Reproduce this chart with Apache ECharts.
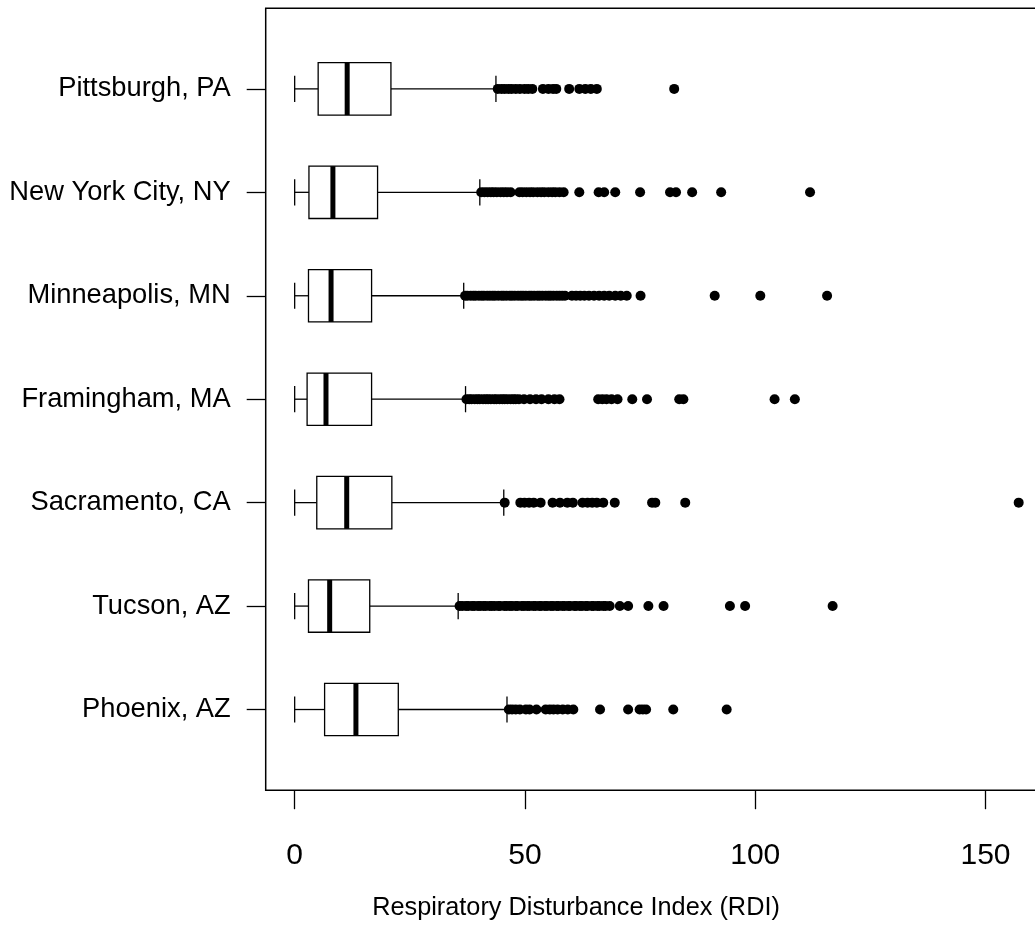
<!DOCTYPE html>
<html>
<head>
<meta charset="utf-8">
<script src="https://cdn.jsdelivr.net/npm/echarts@6/dist/echarts.min.js"></script>
<style>
html,body{margin:0;padding:0;background:#fff;}
#RdiBox{width:1035px;height:951px;}
</style>
</head>
<body>
<div id="RdiBox"></div>
<script>
// cities from bottom (1) to top (7)
var cities = ['Phoenix, AZ', 'Tucson, AZ', 'Sacramento, CA', 'Framingham, MA', 'Minneapolis, MN', 'New York City, NY', 'Pittsburgh, PA'];
// box stats, same order as cities
var whiskerLo = [0, 0, 0, 0, 0, 0, 0];
var q1s = [6.5, 3.0, 4.8, 2.7, 3.0, 3.1, 5.1];
var medians = [13.3, 7.6, 11.3, 6.8, 7.9, 8.3, 11.4];
var q3s = [22.5, 16.3, 21.1, 16.7, 16.7, 18.0, 20.9];
var whiskerHi = [46.1, 35.5, 45.4, 37.1, 36.7, 40.2, 43.7];
var xTicks = [0, 50, 100, 150];

// outliers
var outPhoenix = [46.5, 47.2, 48, 48.9, 50.2, 51, 52.5, 54.5, 55.4, 56.2, 57.1, 58.2, 59.3, 60.5, 66.3, 72.4, 74.9, 75.6, 76.3, 82.2, 93.8];
var outTucson = [35.8, 36.4, 37.2, 37.7, 38.5, 39, 39.8, 40.3, 41, 41.5, 42.3, 42.8, 43.4, 44.2, 44.6, 45.5, 46, 46.7, 47.2, 48, 48.4, 49.3, 49.8, 50.5, 51, 51.8, 52.3, 53.1, 53.5, 54.3, 54.8, 55.6, 56.1, 56.9, 57.3, 58.1, 58.6, 59.4, 59.8, 60.7, 61.1, 61.9, 62.4, 63.2, 63.6, 64.5, 64.9, 65.7, 66.2, 67, 67.5, 68.4, 70.6, 72.4, 76.8, 80.1, 94.5, 97.8, 116.8];
var outSacramento = [45.6, 49, 49.9, 50.9, 51.9, 53.4, 56, 57.6, 59.2, 60.4, 62.5, 63.6, 64.6, 65.6, 67, 69.5, 77.6, 78.3, 84.8, 157.2];
var outFramingham = [37.3, 37.9, 38.4, 39.1, 39.7, 40.2, 40.9, 41.5, 42, 42.6, 43.3, 43.8, 44.5, 45.1, 45.6, 46.2, 46.9, 47.5, 48, 48.7, 49.8, 51.1, 52.4, 53.6, 55.1, 56.4, 57.5, 65.9, 66.8, 67.7, 68.8, 70.1, 73.3, 76.5, 83.5, 84.4, 104.2, 108.6];
var outMinneapolis = [37, 37.5, 38.2, 38.8, 39.3, 40, 40.6, 41.1, 41.8, 42.4, 43, 43.5, 44.2, 44.9, 45.4, 46, 46.7, 47.2, 47.8, 48.5, 49.1, 49.6, 50.2, 50.9, 51.4, 52, 52.7, 53.2, 53.8, 54.5, 55.1, 55.6, 56.2, 56.9, 57.5, 58.1, 58.7, 60.2, 61.1, 62, 62.9, 63.9, 65, 66.1, 67.2, 68.3, 69.6, 70.8, 72.1, 75.1, 91.2, 101.1, 115.6];
var outNewYork = [40.5, 41.2, 41.9, 42.6, 43.2, 43.9, 44.7, 45.4, 46.1, 46.9, 48.8, 49.5, 50.3, 51.1, 51.8, 52.7, 53.5, 54.2, 55.1, 55.9, 56.6, 57.5, 58.4, 61.8, 66, 67.2, 69.6, 75, 81.5, 82.8, 86.3, 92.6, 111.9];
var outPittsburgh = [44.1, 44.9, 45.6, 46.4, 47.1, 48, 48.9, 49.9, 50.7, 51.6, 53.9, 55.1, 56.1, 56.8, 59.6, 61.8, 63.1, 64.3, 65.6, 82.4];

var outliers = [outPhoenix, outTucson, outSacramento, outFramingham, outMinneapolis, outNewYork, outPittsburgh];

var font = 'Liberation Sans, Arial, sans-serif';

var boxData = [];
var outData = [];
for (var i = 0; i < cities.length; i++) {
	boxData.push([i + 1, whiskerLo[i], q1s[i], medians[i], q3s[i], whiskerHi[i]]);
	for (var j = 0; j < outliers[i].length; j++) {
		outData.push([outliers[i][j], i + 1]);
	}
}

// R style box: whiskers with half-height staples, thick median
function renderBox(params, api) {
	var cat = api.value(0);
	var lo = api.coord([api.value(1), cat]);
	var q1 = api.coord([api.value(2), cat]);
	var med = api.coord([api.value(3), cat]);
	var q3 = api.coord([api.value(4), cat]);
	var hi = api.coord([api.value(5), cat]);
	var h = api.size([0, 1])[1] * 0.253;
	var y = lo[1];
	var ls = {stroke: '#000', lineWidth: 1.3};
	return {
		type: 'group',
		children: [
			{type: 'line', shape: {x1: lo[0], y1: y, x2: q1[0], y2: y}, style: ls},
			{type: 'line', shape: {x1: q3[0], y1: y, x2: hi[0], y2: y}, style: ls},
			{type: 'line', shape: {x1: lo[0], y1: y - h / 2, x2: lo[0], y2: y + h / 2}, style: ls},
			{type: 'line', shape: {x1: hi[0], y1: y - h / 2, x2: hi[0], y2: y + h / 2}, style: ls},
			{type: 'rect', shape: {x: q1[0], y: y - h, width: q3[0] - q1[0], height: 2 * h}, style: {fill: '#fff', stroke: '#000', lineWidth: 1.3}},
			{type: 'line', shape: {x1: med[0], y1: y - h, x2: med[0], y2: y + h}, style: {stroke: '#000', lineWidth: 5}}
		]
	};
}

var myChart = echarts.init(document.getElementById('RdiBox'));

var option = {
	animation: false,
	backgroundColor: '#fff',
	title: {
		text: 'Respiratory Disturbance Index (RDI)',
		left: 571,
		top: 891,
		textAlign: 'center',
		textStyle: {fontFamily: font, fontSize: 25.3, fontWeight: 'normal', color: '#000'}
	},
	grid: {
		left: 265.7,
		top: 8.2,
		width: 782,
		height: 782,
		outerBoundsMode: 'none',
		containLabel: false,
		show: true,
		borderColor: '#000',
		borderWidth: 1.5,
		backgroundColor: 'transparent'
	},
	xAxis: {
		type: 'value',
		min: -6.29,
		max: 163.5,
		axisLine: {show: false, onZero: false},
		splitLine: {show: false},
		axisTick: {show: true, customValues: xTicks, length: 19, lineStyle: {color: '#000', width: 1.3}},
		axisLabel: {customValues: xTicks, margin: 51, fontFamily: font, fontSize: 30, color: '#000'}
	},
	yAxis: {
		type: 'value',
		min: 0.22,
		max: 7.78,
		axisLine: {show: false, onZero: false},
		splitLine: {show: false},
		axisTick: {show: true, customValues: [1, 2, 3, 4, 5, 6, 7], length: 19, lineStyle: {color: '#000', width: 1.3}},
		axisLabel: {
			customValues: [1, 2, 3, 4, 5, 6, 7],
			margin: 35,
			fontFamily: font,
			fontSize: 27.3,
			color: '#000',
			formatter: function (v) { return cities[Math.round(v) - 1]; }
		}
	},
	series: [
		{
			type: 'custom',
			renderItem: renderBox,
			encode: {x: [1, 2, 3, 4, 5], y: 0},
			data: boxData,
			z: 2
		},
		{
			type: 'scatter',
			symbol: 'circle',
			symbolSize: 10,
			itemStyle: {color: '#000', opacity: 1},
			data: outData,
			z: 3
		}
	]
};

myChart.setOption(option);
</script>
</body>
</html>
